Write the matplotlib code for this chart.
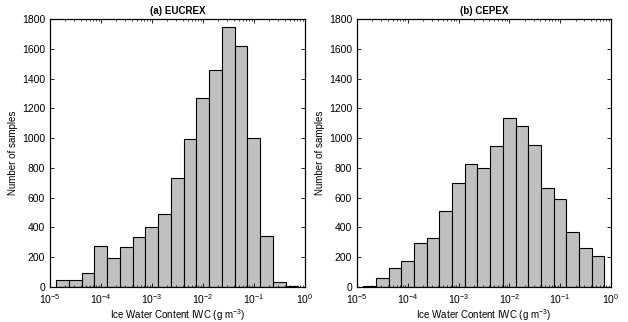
import numpy as np
from matplotlib import pyplot as plt

# histogram counts per bin (bins are 0.25 decades wide in log10(IWC))
log_edge_start = -4.88
bin_width = 0.25

eucrex_counts = [49, 49, 96, 278, 193, 267, 339, 401, 493, 733,
                 992, 1270, 1460, 1745, 1620, 1000, 341, 35, 9]
cepex_counts = [9, 60, 125, 175, 294, 332, 509, 699, 825, 800,
                944, 1137, 1079, 955, 663, 592, 367, 260, 211]

titles = ['(a) EUCREX', '(b) CEPEX']
y_ticks = [0, 200, 400, 600, 800, 1000, 1200, 1400, 1600, 1800]
x_ticks = [1e-5, 1e-4, 1e-3, 1e-2, 1e-1, 1e0]


def main():
    plt.rcParams['font.family'] = ['Liberation Sans', 'DejaVu Sans']
    plt.rcParams['font.size'] = 7
    plt.rcParams['mathtext.fontset'] = 'custom'
    plt.rcParams['mathtext.rm'] = 'Liberation Sans'
    plt.rcParams['mathtext.it'] = 'Liberation Sans:italic'
    plt.rcParams['mathtext.bf'] = 'Liberation Sans:bold'

    fig = plt.figure(figsize=(6.28, 3.22), dpi=100)
    ax_a = fig.add_axes([0.0796, 0.1087, 0.406, 0.832])
    ax_b = fig.add_axes([0.5685, 0.1087, 0.4045, 0.832])

    for ax, counts, title in zip([ax_a, ax_b], [eucrex_counts, cepex_counts], titles):
        n = len(counts)
        log_edges = log_edge_start + bin_width * np.arange(n + 1)
        edges = 10.0 ** log_edges
        ax.bar(edges[:-1], counts, width=np.diff(edges), align='edge',
               color='#c0c0c0', edgecolor='black', linewidth=0.8)
        ax.set_xscale('log')
        ax.set_xlim(1e-5, 1e0)
        ax.set_ylim(0, 1800)
        ax.set_xticks(x_ticks)
        ax.set_yticks(y_ticks)
        ax.tick_params(which='both', direction='in', top=True, right=True,
                       labelsize=7.5)
        ax.tick_params(which='major', length=3, width=0.6)
        ax.tick_params(which='minor', length=1.5, width=0.5)
        for s in ax.spines.values():
            s.set_linewidth(0.9)
        ax.set_title(title, fontsize=7, fontweight='bold', pad=4)
        ax.set_xlabel('Ice Water Content IWC (g m$^{-3}$)', labelpad=1)
        ax.set_ylabel('Number of samples', labelpad=3)

    fig.savefig('out.png', dpi=100)


if __name__ == "__main__":
    main()
